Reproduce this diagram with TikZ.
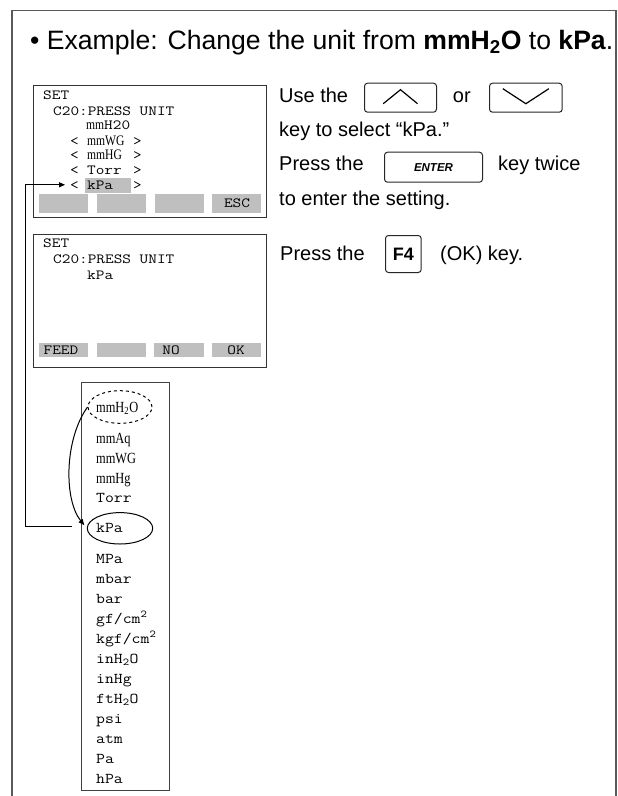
\documentclass[tikz,border=0pt]{standalone}
\usepackage{fontspec}
\setmainfont{Liberation Sans}
\newfontfamily\scrmono[FakeStretch=1.2]{Latin Modern Mono}
\newfontfamily\lstmono[FakeStretch=1.15]{Latin Modern Mono}
\newfontfamily\scrserif[FakeStretch=0.8]{Liberation Serif}
\usetikzlibrary{arrows.meta,shapes.geometric,calc}
\tikzset{
  frameline/.style={line width=1.6pt, draw=black!65},
  screen/.style={draw=black!80, line width=1.3pt, inner sep=0pt, anchor=north west},
  btn/.style={fill=black!25, inner sep=0pt, anchor=north west},
  scrtxt/.style={anchor=base west, inner sep=0pt, font=\fontsize{14}{16}\scrmono},
  btntxt/.style={anchor=base, inner sep=0pt, font=\fontsize{14}{16}\scrmono},
  lsttxt/.style={anchor=base west, inner sep=0pt, font=\fontsize{15}{18}\lstmono},
  lstser/.style={anchor=base west, inner sep=0pt, font=\fontsize{15.5}{18}\scrserif},
  body/.style={anchor=base west, inner sep=0pt, font=\fontsize{20}{24}\selectfont},
  keybox/.style={draw=black!85, rounded corners=3pt, line width=1pt, inner sep=0pt, anchor=north west},
  arr/.style={-{Triangle[length=6pt,width=5pt]}, line width=1pt},
  chev/.style={line width=1.2pt},
}
\begin{document}
\begin{tikzpicture}[x=1pt,y=-1pt]
\useasboundingbox (0,0) rectangle (618,796);
% outer frame
\draw[frameline] (11.7,796) -- (11.7,10.5) -- (616,10.5) -- (616,796);
% title
\node[anchor=base west, inner sep=0pt, font=\fontsize{26.6}{30}\selectfont] (title) at (30,49)
  {• Example: Change the unit from \textbf{mmH\textsubscript{2}O} to \textbf{kPa}.};

% ---------- screen 1
\node[screen, minimum width=233, minimum height=132] (scr1) at (33,85) {};
\node[fill=black!25, inner sep=0pt, anchor=north west, minimum width=46, minimum height=15] (hl1) at (85,178) {};
\node[scrtxt] (s1set) at (43,99) {SET};
\node[scrtxt] (s1c20) at (53,115) {C20:PRESS UNIT};
\node[scrtxt] (s1mm) at (86,129.5) {{\fontsize{14.5}{16}\scrserif mm}H20};
\node[scrtxt] (s1wg) at (70,145) {\makebox[17pt][l]{<}\makebox[46pt][l]{\fontsize{14.5}{16}\scrserif mmWG}>};
\node[scrtxt] (s1hg) at (70,159.5) {\makebox[17pt][l]{<}\makebox[46pt][l]{\fontsize{14.5}{16}\scrserif mmHG}>};
\node[scrtxt] (s1torr) at (70,174) {\makebox[17pt][l]{<}\makebox[46pt][l]{Torr}>};
\node[scrtxt] (s1kpa) at (70,189) {\makebox[17pt][l]{<}\makebox[46pt][l]{kPa}>};
\node[btn, minimum width=49, minimum height=19] (b11) at (39,193.3) {};
\node[btn, minimum width=49, minimum height=19] (b12) at (97,193.3) {};
\node[btn, minimum width=49, minimum height=19] (b13) at (155,193.3) {};
\node[btn, minimum width=49, minimum height=19] (b14) at (212,193.3) {};
\node[btntxt] (esc) at (237,207.5) {ESC};

% ---------- screen 2
\node[screen, minimum width=233, minimum height=133] (scr2) at (33,234) {};
\node[scrtxt] (s2set) at (43,247) {SET};
\node[scrtxt] (s2c20) at (53,263) {C20:PRESS UNIT};
\node[scrtxt] (s2kpa) at (87,279) {kPa};
\node[btn, minimum width=49, minimum height=14.4] (b21) at (39,342.3) {};
\node[btn, minimum width=49, minimum height=14.4] (b22) at (97,342.3) {};
\node[btn, minimum width=50, minimum height=14.4] (b23) at (154,342.3) {};
\node[btn, minimum width=49, minimum height=14.4] (b24) at (212,342.3) {};
\node[btntxt] (feed) at (61,354) {FEED};
\node[btntxt] (no) at (171,354) {NO};
\node[btntxt] (ok) at (236,354) {OK};

% ---------- right-hand instructions
\node[body] (t1) at (279,102.7) {Use the};
\node[keybox, minimum width=72, minimum height=29] (kup) at (364,82.7) {};
\draw[chev] ($(kup.center)+(-17.3,6)$) -- ($(kup.center)+(0,-8)$) -- ($(kup.center)+(17,6)$);
\node[body] (t2) at (452.7,102.7) {or};
\node[keybox, minimum width=72.7, minimum height=29] (kdown) at (489,82.7) {};
\draw[chev] ($(kdown.center)+(-23,-9)$) -- ($(kdown.center)+(0,6)$) -- ($(kdown.center)+(23,-9)$);
\node[body] (t3) at (279,136) {key to select “kPa.”};
\node[body] (t4) at (279,170) {Press the};
\node[keybox, minimum width=98, minimum height=30, font=\fontsize{11.5}{12}\selectfont\bfseries\itshape] (kent) at (384,151.7) {ENTER};
\node[body] (t5) at (498,170) {key twice};
\node[body] (t6) at (279,205.5) {to enter the setting.};
\node[body] (t7) at (280,260) {Press the};
\node[keybox, minimum width=35.7, minimum height=37, font=\fontsize{18}{20}\selectfont\bfseries] (kf4) at (385,235) {F4};
\node[body] (t8) at (440,260) {(OK) key.};

% ---------- unit list
\node[draw=black!75, line width=1pt, inner sep=0pt, anchor=north west, minimum width=88, minimum height=408.3] (lst) at (81,381.7) {};
\node[lstser] (u1) at (96,412.5) {mmH\textsubscript{2}O};
\node[lstser] (u2) at (96,443) {mmAq};
\node[lstser] (u3) at (96,463) {mmWG};
\node[lstser] (u4) at (96,483) {mmHg};
\node[lsttxt] (u5) at (96,502) {Torr};
\node[lsttxt] (u6) at (96,532) {kPa};
\node[lsttxt] (u7) at (96,563) {MPa};
\node[lsttxt] (u8) at (96,583) {mbar};
\node[lsttxt] (u9) at (96,603) {bar};
\node[lsttxt] (u10) at (96,623) {gf/cm\textsuperscript{2}};
\node[lsttxt] (u11) at (96,643) {kgf/cm\textsuperscript{2}};
\node[lsttxt] (u12) at (96,663) {inH\textsubscript{2}O};
\node[lsttxt] (u13) at (96,683) {inHg};
\node[lsttxt] (u14) at (96,703) {ftH\textsubscript{2}O};
\node[lsttxt] (u15) at (96,723) {psi};
\node[lsttxt] (u16) at (96,743) {atm};
\node[lsttxt] (u17) at (96,763) {Pa};
\node[lsttxt] (u18) at (96,783) {hPa};
\node[draw, dashed, ellipse, line width=1pt, inner sep=0pt, minimum width=64, minimum height=32.6] (ell1) at (120,407) {};
\node[draw, ellipse, line width=1pt, inner sep=0pt, minimum width=65.4, minimum height=31.4] (ell2) at (120,528.3) {};

% ---------- connectors
\coordinate (kpafree) at (72,526);
\coordinate (turn) at (25,526);
\draw[arr, shorten >=5pt] (kpafree) -- (turn) |- (s1kpa.west);
\draw[arr, shorten >=4pt] (ell1.west) .. controls (64,440) and (64,500) .. (ell2.west);
\end{tikzpicture}
\end{document}
